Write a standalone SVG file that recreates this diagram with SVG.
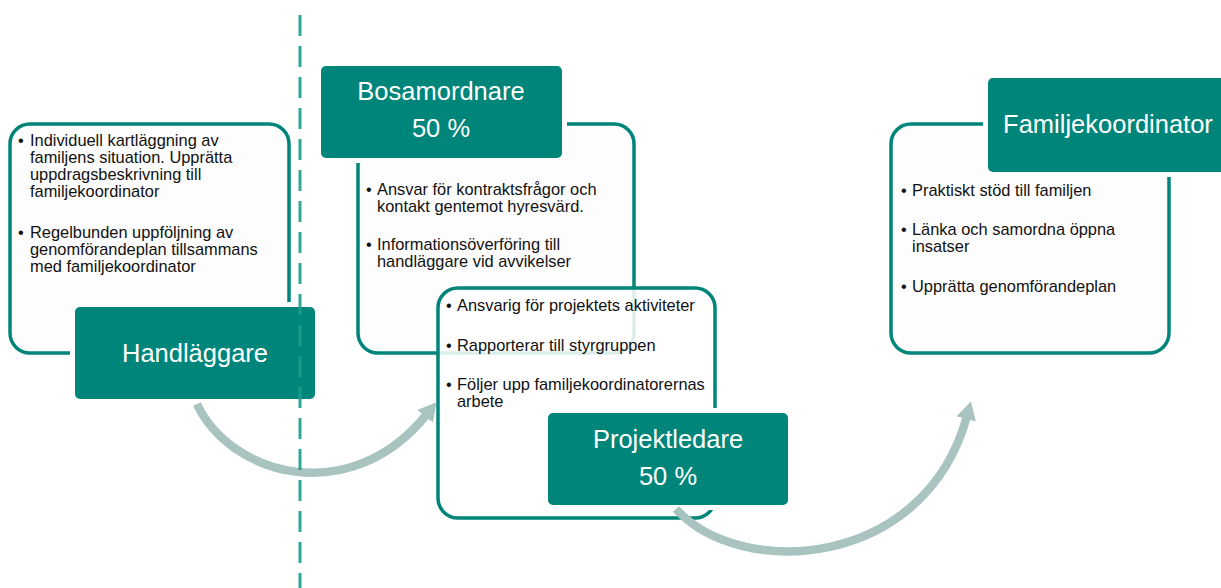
<svg xmlns="http://www.w3.org/2000/svg" width="1221" height="588" viewBox="0 0 1221 588">
<style>
.card{fill:#fdfdfd;stroke:#00857a;stroke-width:3.5}
.card2{fill:#ffffff;fill-opacity:0.86;stroke:#00857a;stroke-width:3.5}
.halo{fill:#ffffff}
.hdr{fill:#00857a}
.ht{font-family:"Liberation Sans",Arial,sans-serif;font-size:25.5px;fill:#ffffff;text-anchor:middle}
.bt{font-family:"Liberation Sans",Arial,sans-serif;font-size:16.4px;fill:#111111}
.arr{fill:none;stroke:#a9c4c0;stroke-width:8.5}
.div{stroke:#1f9d8b;stroke-width:3;stroke-dasharray:21 10;opacity:0.9}
</style>
<defs>
<marker id="ah" markerUnits="userSpaceOnUse" markerWidth="18" markerHeight="20" viewBox="0 0 18 20" refX="3" refY="10" orient="auto">
<path d="M0,0 L18,10 L0,20 z" fill="#a9c4c0"/>
</marker>
</defs>

<g id="handlaggare">
<rect class="card" x="10" y="124" width="279" height="229" rx="20"/>
<text class="bt" x="18" y="146">•</text>
<text class="bt" x="30" y="146">Individuell kartläggning av</text>
<text class="bt" x="30" y="163">familjens situation. Upprätta</text>
<text class="bt" x="30" y="180">uppdragsbeskrivning till</text>
<text class="bt" x="30" y="197">familjekoordinator</text>
<text class="bt" x="18" y="238">•</text>
<text class="bt" x="30" y="238">Regelbunden uppföljning av</text>
<text class="bt" x="30" y="255">genomförandeplan tillsammans</text>
<text class="bt" x="30" y="272">med familjekoordinator</text>
<rect class="halo" x="70" y="302" width="250" height="102" rx="9"/>
<rect class="hdr" x="75" y="307" width="240" height="92" rx="5"/>
<text class="ht" x="195" y="362">Handläggare</text>
</g>

<g id="bosamordnare">
<rect class="card" x="358" y="124" width="276" height="229" rx="20"/>
<text class="bt" x="366" y="195">•</text>
<text class="bt" x="377" y="195">Ansvar för kontraktsfrågor och</text>
<text class="bt" x="377" y="212">kontakt gentemot hyresvärd.</text>
<text class="bt" x="366" y="250">•</text>
<text class="bt" x="377" y="250">Informationsöverföring till</text>
<text class="bt" x="377" y="267">handläggare vid avvikelser</text>
<rect class="halo" x="316" y="61" width="251" height="102" rx="9"/>
<rect class="hdr" x="321" y="66" width="241" height="92" rx="5"/>
<text class="ht" x="441" y="100">Bosamordnare</text>
<text class="ht" x="441" y="137">50 %</text>
</g>

<g id="projektledare">
<rect class="card2" x="438" y="288" width="277" height="230" rx="20"/>
<text class="bt" x="446" y="311">•</text>
<text class="bt" x="457" y="311">Ansvarig för projektets aktiviteter</text>
<text class="bt" x="446" y="351">•</text>
<text class="bt" x="457" y="351">Rapporterar till styrgruppen</text>
<text class="bt" x="446" y="390">•</text>
<text class="bt" x="457" y="390">Följer upp familjekoordinatorernas</text>
<text class="bt" x="457" y="407">arbete</text>
<rect class="halo" x="543" y="408" width="250" height="102" rx="9"/>
<rect class="hdr" x="548" y="413" width="240" height="92" rx="5"/>
<text class="ht" x="668" y="448">Projektledare</text>
<text class="ht" x="668" y="485">50 %</text>
</g>

<g id="familjekoordinator">
<rect class="card" x="891" y="124" width="278" height="229" rx="20"/>
<text class="bt" x="901" y="196">•</text>
<text class="bt" x="912" y="196">Praktiskt stöd till familjen</text>
<text class="bt" x="901" y="235">•</text>
<text class="bt" x="912" y="235">Länka och samordna öppna</text>
<text class="bt" x="912" y="252">insatser</text>
<text class="bt" x="901" y="292">•</text>
<text class="bt" x="912" y="292">Upprätta genomförandeplan</text>
<rect class="halo" x="983" y="73" width="250" height="104" rx="9"/>
<rect class="hdr" x="988" y="78" width="245" height="94" rx="5"/>
<text class="ht" x="1108" y="133">Familjekoordinator</text>
</g>

<g id="connectors">
<path class="arr" d="M197,404 C230,475 350,510 427,414" marker-end="url(#ah)"/>
<path class="arr" d="M676,509 C740,580 925,570 967,416" marker-end="url(#ah)"/>
</g>

<line id="divider" class="div" x1="300" y1="15" x2="300" y2="588"/>
</svg>
